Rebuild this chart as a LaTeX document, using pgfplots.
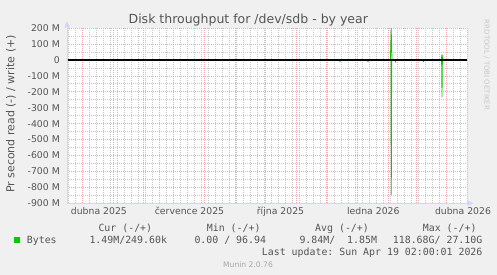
\documentclass[border=0pt]{standalone}
\usepackage{pgfplots}
\pgfplotsset{compat=1.18}
\usepackage{fontspec}
\setmainfont{DejaVu Sans}
\setmonofont{DejaVu Sans Mono}
\usetikzlibrary{arrows.meta}
\definecolor{bgcol}{HTML}{F0F0F0}
\definecolor{fontcol}{HTML}{555555}
\definecolor{axiscol}{HTML}{CFD6F8}
\definecolor{mgrid}{HTML}{F0AAAA}
\definecolor{mingrid}{HTML}{C8C8C8}
\definecolor{munin}{HTML}{00CC00}
\definecolor{wm}{HTML}{C8C8C8}
\newcommand{\legfont}{\fontsize{9.9bp}{11bp}\selectfont\ttfamily}
\begin{document}
\begin{tikzpicture}
\path[use as bounding box, fill=bgcol] (-67bp,-71.7bp) rectangle (430bp,203.3bp);
\begin{axis}[
  name=ax,
  scale only axis,
  width=400bp, height=175.3bp,
  xmin=0, xmax=400, ymin=-900, ymax=200,
  axis background/.style={fill=white},
  axis line style={draw=none},
  tick style={draw=none},
  major tick length=0pt, minor tick length=0pt,
  xtick={15.7,46.3,76.3,106.3,137,168,198,229.7,259.7,290,321.3,349.7,379.7},
  xticklabels={},
  minor xtick={1,8,...,400},
  extra x ticks={31.9,122.5,213.5,306.3,396},
  extra x tick labels={dubna 2025,července 2025,října 2025,ledna 2026,dubna 2026},
  extra x tick style={grid=none},
  xticklabel style={anchor=base, inner sep=0pt, yshift=-11.2bp, font=\fontsize{9.3bp}{11bp}\selectfont, text=fontcol},
  ytick={-900,-800,...,200},
  yticklabels={-900 M,-800 M,-700 M,-600 M,-500 M,-400 M,-300 M,-200 M,-100 M,0,100 M,200 M},
  minor ytick={-850,-750,...,150},
  yticklabel style={anchor=east, inner sep=0pt, xshift=-7bp, font=\fontsize{9.3bp}{11bp}\selectfont, text=fontcol},
  grid=both,
  major grid style={color=mgrid, line width=0.6bp, dash pattern=on 1bp off 1bp},
  minor grid style={color=mingrid, line width=0.6bp, dash pattern=on 1bp off 1bp},
  clip=true,
]
% read (-)
\addplot[munin, line width=0.8bp, line join=round] coordinates {
 (0,0) (272.4,0) (273,-12) (273.6,0) (300.4,0) (301,-12) (301.6,0)
 (323.9,0) (324.3,-845) (324.7,0) (328,0) (328.5,-14) (329,0)
 (356,0) (356.5,-12) (357,0) (374.6,0) (375,-233) (375.4,0) (400,0)};
% write (+)
\addplot[munin, line width=0.8bp, line join=round] coordinates {
 (0,0) (323.4,0) (324.2,195) (325,0) (374.2,0) (375,33) (375.8,0) (400,0)};
% zero rule
\addplot[black, line width=1.3bp] coordinates {(0,0) (400,0)};
\end{axis}
\draw[axiscol, line width=0.9bp, -{Triangle[width=5bp,length=6bp]}] (0,0) -- (0,182bp);
\draw[axiscol, line width=0.9bp, -{Triangle[width=5bp,length=6bp]}] (0,0) -- (406.5bp,0);
% title
\node[anchor=base, inner sep=0pt, text=fontcol, font=\fontsize{12.5bp}{14bp}\selectfont] at (181.3bp,179.3bp) {Disk throughput for /dev/sdb - by year};
% y label
\node[rotate=90, inner sep=0pt, text=fontcol, font=\fontsize{11bp}{13bp}\selectfont] at (-56bp,89.3bp) {Pr second read (-) / write (+)};
% watermark
\node[rotate=-90, inner sep=0pt, text=wm, font=\fontsize{7bp}{8bp}\selectfont] at (419.7bp,138.3bp) {RRDTOOL / TOBI OETIKER};
% legend
\node[anchor=base west, inner sep=0pt, text=fontcol, font=\legfont] at (31.3bp,-28.2bp) {Cur (-/+)};
\node[anchor=base west, inner sep=0pt, text=fontcol, font=\legfont] at (139.7bp,-28.2bp) {Min (-/+)};
\node[anchor=base west, inner sep=0pt, text=fontcol, font=\legfont] at (248bp,-28.2bp) {Avg (-/+)};
\node[anchor=base west, inner sep=0pt, text=fontcol, font=\legfont] at (355.7bp,-28.2bp) {Max (-/+)};
\node[anchor=south west, inner sep=0pt] at (-53bp,-39.4bp) {\textcolor{munin}{\rule{5.5bp}{6bp}}};
\node[anchor=base west, inner sep=0pt, text=fontcol, font=\legfont] at (-40.3bp,-40.2bp) {Bytes};
\node[anchor=base west, inner sep=0pt, text=fontcol, font=\legfont] at (22.3bp,-40.2bp) {1.49M/249.60k};
\node[anchor=base west, inner sep=0pt, text=fontcol, font=\legfont] at (127.3bp,-40.2bp) {0.00 / 96.94};
\node[anchor=base west, inner sep=0pt, text=fontcol, font=\legfont] at (232.3bp,-40.2bp) {9.84M/\ \ 1.85M};
\node[anchor=base west, inner sep=0pt, text=fontcol, font=\legfont] at (325.7bp,-40.2bp) {118.68G/ 27.10G};
\node[anchor=base west, inner sep=0pt, text=fontcol, font=\legfont] at (194.7bp,-52.2bp) {Last update: Sun Apr 19 02:00:01 2026};
\node[anchor=base, inner sep=0pt, text=black!35, font=\fontsize{7.6bp}{9bp}\selectfont] at (181bp,-63.7bp) {Munin 2.0.76};
\end{tikzpicture}
\end{document}
